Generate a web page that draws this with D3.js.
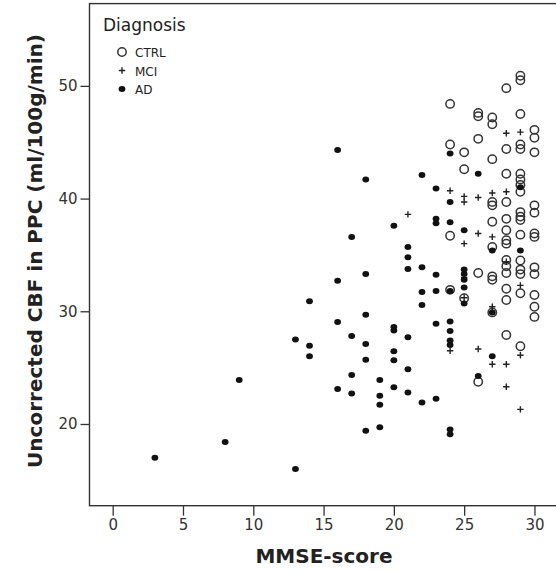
<!DOCTYPE html>
<html>
<head>
<meta charset="utf-8">
<script src="https://cdn.jsdelivr.net/npm/d3@7"></script>
<style>
    body { margin: 0; background: #fff; }
    text { font-family: "DejaVu Sans", sans-serif; fill: #222; }
</style>
</head>
<body>
<svg id="chart" width="556" height="572"></svg>
<script>
// MMSE-score vs uncorrected CBF, one list of [mmse, cbf] per diagnosis group
var ctrl = [
    [24, 48.4], [24, 44.8], [24, 36.7], [24, 31.9],
    [25, 44.1], [25, 42.6], [25, 31.15],
    [26, 47.6], [26, 47.3], [26, 45.3], [26, 33.4], [26, 23.75],
    [27, 47.2], [27, 46.6], [27, 43.5], [27, 39.7], [27, 39.4], [27, 37.95], [27, 35.7], [27, 33.1], [27, 32.8], [27, 29.9],
    [28, 49.8], [28, 44.4], [28, 42.2], [28, 39.7], [28, 38.2], [28, 37.2], [28, 36.3], [28, 36.0], [28, 34.55], [28, 34.0], [28, 33.4], [28, 32.0], [28, 31.0], [28, 27.9],
    [29, 50.9], [29, 50.5], [29, 47.5], [29, 44.8], [29, 44.4], [29, 42.2], [29, 41.7], [29, 41.2], [29, 40.6], [29, 38.8], [29, 38.4], [29, 38.1], [29, 36.8], [29, 34.5], [29, 33.7], [29, 33.3], [29, 31.6], [29, 26.9],
    [30, 46.1], [30, 45.4], [30, 44.1], [30, 39.4], [30, 38.75], [30, 36.9], [30, 36.6], [30, 33.9], [30, 33.3], [30, 31.45], [30, 30.4], [30, 29.5]
];
var mci = [
    [21, 38.6],
    [24, 40.7], [24, 26.5],
    [25, 40.2], [25, 39.7], [25, 36.0], [25, 33.0], [25, 31.2],
    [26, 40.1], [26, 36.9], [26, 26.65],
    [27, 40.5], [27, 36.6], [27, 30.4], [27, 25.3],
    [28, 45.8], [28, 40.6], [28, 34.4], [28, 25.3], [28, 23.3],
    [29, 45.9], [29, 32.3], [29, 26.1], [29, 21.3]
];
var ad = [
    [3, 17.0], [8, 18.4], [9, 23.9], [13, 27.5], [13, 16.0],
    [14, 30.9], [14, 26.95], [14, 26.0],
    [16, 44.3], [16, 32.7], [16, 29.05], [16, 23.1],
    [17, 36.6], [17, 27.8], [17, 24.35], [17, 22.7],
    [18, 41.7], [18, 33.3], [18, 29.7], [18, 27.1], [18, 25.7], [18, 19.4],
    [19, 23.9], [19, 22.5], [19, 21.7], [19, 19.7],
    [20, 37.6], [20, 28.6], [20, 28.3], [20, 26.45], [20, 25.65], [20, 23.25],
    [21, 35.7], [21, 34.8], [21, 33.75], [21, 27.7], [21, 24.85], [21, 22.8],
    [22, 42.1], [22, 33.9], [22, 31.7], [22, 30.55], [22, 21.9],
    [23, 40.9], [23, 38.2], [23, 37.8], [23, 33.25], [23, 31.8], [23, 28.9], [23, 22.25],
    [24, 44.0], [24, 39.7], [24, 37.9], [24, 31.8], [24, 29.1], [24, 28.25], [24, 27.4], [24, 27.0], [24, 19.5], [24, 19.1],
    [25, 37.2], [25, 33.7], [25, 33.3], [25, 32.8], [25, 32.1], [25, 30.7],
    [26, 42.2], [26, 24.25],
    [27, 35.4], [27, 29.9], [27, 26.0],
    [29, 41.0], [29, 35.4]
];
var xTicks = [0, 5, 10, 15, 20, 25, 30];
var yTicks = [20, 30, 40, 50];
var legendItems = ["CTRL", "MCI", "AD"];

var svg = d3.select("#chart");

// plot box runs off the right edge, like the source figure
var x = d3.scaleLinear().domain([-1.65, 32.5]).range([89.5, 569.6]);
var y = d3.scaleLinear().domain([12.75, 57.3]).range([505.7, 3.6]);

svg.append("rect")
    .attr("x", x(-1.65)).attr("y", y(57.3))
    .attr("width", x(32.5) - x(-1.65))
    .attr("height", y(12.75) - y(57.3))
    .style("fill", "none")
    .style("stroke", "#333")
    .style("stroke-width", 1.4);

var xAxis = svg.append("g")
    .attr("transform", "translate(0," + y(12.75) + ")")
    .call(d3.axisBottom(x).tickValues(xTicks).tickSize(10).tickPadding(4));
var yAxis = svg.append("g")
    .attr("transform", "translate(" + x(-1.65) + ",0)")
    .call(d3.axisLeft(y).tickValues(yTicks).tickSize(9).tickPadding(3));

[xAxis, yAxis].forEach(function (g) {
    g.select(".domain").remove();
    g.selectAll("line").style("stroke", "#333").style("stroke-width", 1.3);
    g.selectAll("text")
        .style("font-family", "'DejaVu Sans', sans-serif")
        .style("font-size", "15px")
        .style("fill", "#333");
});

svg.append("text")
    .attr("x", 324).attr("y", 563)
    .attr("text-anchor", "middle")
    .style("font-size", "20px").style("font-weight", "bold")
    .text("MMSE-score");

svg.append("text")
    .attr("transform", "translate(42,251) rotate(-90)")
    .attr("text-anchor", "middle")
    .style("font-size", "20px").style("font-weight", "bold")
    .text("Uncorrected CBF in PPC (ml/100g/min)");

// markers
function drawCircle(g) {
    g.append("circle").attr("r", 4.2)
        .style("fill", "none").style("stroke", "#333").style("stroke-width", 1.5);
}
function drawPlus(g) {
    g.append("path").attr("d", "M-3.2,0H3.2M0,-3.2V3.2")
        .style("stroke", "#222").style("stroke-width", 1.4);
}
function drawDot(g) {
    g.append("ellipse").attr("rx", 3.4).attr("ry", 3.0).style("fill", "#111");
}
var markers = {CTRL: drawCircle, MCI: drawPlus, AD: drawDot};

[[ctrl, "CTRL"], [mci, "MCI"], [ad, "AD"]].forEach(function (grp) {
    svg.append("g").selectAll("g")
        .data(grp[0])
        .enter().append("g")
        .attr("transform", function (d) {
            return "translate(" + x(d[0]) + "," + y(d[1]) + ")";
        })
        .each(function () { markers[grp[1]](d3.select(this)); });
});

// legend
svg.append("text")
    .attr("x", 103).attr("y", 31)
    .style("font-size", "17px")
    .text("Diagnosis");
var leg = svg.append("g").selectAll("g")
    .data(legendItems)
    .enter().append("g")
    .attr("transform", function (d, i) { return "translate(122," + (52 + i * 18.5) + ")"; });
leg.each(function (d) { markers[d](d3.select(this)); });
leg.append("text")
    .attr("x", 13).attr("y", 5)
    .style("font-size", "12px")
    .text(function (d) { return d; });
</script>
</body>
</html>
